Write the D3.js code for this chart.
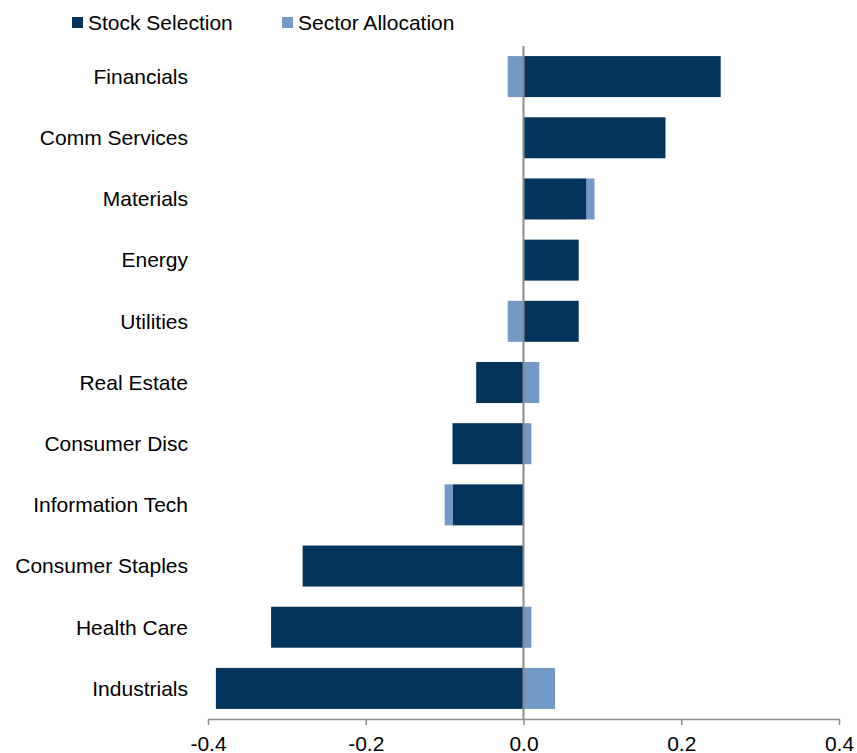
<!DOCTYPE html>
<html>
<head>
<meta charset="utf-8">
<script src="https://cdn.jsdelivr.net/npm/d3@7"></script>
<style>
  body { margin: 0; background: #fff; }
  svg { display: block; font-family: "Liberation Sans", Arial, sans-serif; }
</style>
</head>
<body>
<svg width="857" height="753"></svg>
<script>
var sectors = ["Financials", "Comm Services", "Materials", "Energy", "Utilities", "Real Estate",
               "Consumer Disc", "Information Tech", "Consumer Staples", "Health Care", "Industrials"];
var stockSelection   = [0.25, 0.18, 0.08, 0.07, 0.07, -0.06, -0.09, -0.09, -0.28, -0.32, -0.39];
var sectorAllocation = [-0.02, 0, 0.01, 0, -0.02, 0.02, 0.01, -0.01, 0, 0.01, 0.04];
var seriesNames = ["Stock Selection", "Sector Allocation"];
var xTicks = [-0.4, -0.2, 0.0, 0.2, 0.4];

var colors = ["#03345c", "#7399c6"];

var svg = d3.select("svg"),
    width = 857,
    height = 753;

var x = d3.scaleLinear()
    .domain([-0.4, 0.4])
    .range([208, 839]);

var y = d3.scaleBand()
    .domain(sectors)
    .range([46, 719])
    .paddingInner(0.33)
    .paddingOuter(0.165);

// build rows for stacking
var rows = sectors.map(function(s, i) {
  return { sector: s, stock: stockSelection[i], alloc: sectorAllocation[i] };
});

var stack = d3.stack()
    .keys(["stock", "alloc"])
    .offset(d3.stackOffsetDiverging);

var layers = stack(rows);

svg.append("g")
  .selectAll("g")
  .data(layers).enter()
  .append("g")
    .attr("fill", function(d, i) { return colors[i]; })
  .selectAll("rect")
  .data(function(d) { return d; }).enter()
  .append("rect")
    .attr("x", function(d) { return x(Math.min(d[0], d[1])); })
    .attr("width", function(d) { return Math.abs(x(d[1]) - x(d[0])); })
    .attr("y", function(d) { return y(d.data.sector); })
    .attr("height", y.bandwidth());

// x axis
var fmt = d3.format(".1f");
var xAxis = svg.append("g")
    .attr("transform", "translate(0,719)")
    .call(d3.axisBottom(x).tickValues(xTicks).tickSize(6).tickSizeOuter(0)
      .tickFormat(function(d) { return fmt(d).replace("\u2212", "-"); }));

xAxis.select(".domain").attr("stroke", "#8c8c8c").attr("stroke-width", 1.5);
xAxis.selectAll(".tick line").attr("stroke", "#8c8c8c").attr("stroke-width", 1.5);
xAxis.selectAll(".tick text")
    .attr("y", 17)
    .attr("dy", "0.71em")
    .attr("fill", "#000")
    .style("font-size", "21px")
    .style("font-family", "'Liberation Sans', Arial, sans-serif");

// zero line
svg.append("line")
    .attr("x1", x(0)).attr("x2", x(0))
    .attr("y1", 46).attr("y2", 719)
    .attr("stroke", "#8c8c8c")
    .attr("stroke-width", 2);

// category labels
svg.append("g")
  .selectAll("text")
  .data(sectors).enter()
  .append("text")
    .attr("x", 188)
    .attr("y", function(d) { return y(d) + y.bandwidth() / 2; })
    .attr("dy", "0.35em")
    .attr("text-anchor", "end")
    .style("font-size", "21px")
    .attr("fill", "#000")
    .text(function(d) { return d; });

// legend
var legendX = [72, 282];
var legend = svg.append("g").selectAll("g")
  .data(seriesNames).enter()
  .append("g")
    .attr("transform", function(d, i) { return "translate(" + legendX[i] + ",0)"; });

legend.append("rect")
    .attr("x", 0).attr("y", 17)
    .attr("width", 11).attr("height", 11)
    .attr("fill", function(d, i) { return colors[i]; });

legend.append("text")
    .attr("x", 16)
    .attr("y", 30)
    .style("font-size", "21px")
    .attr("fill", "#000")
    .text(function(d) { return d; });
</script>
</body>
</html>
